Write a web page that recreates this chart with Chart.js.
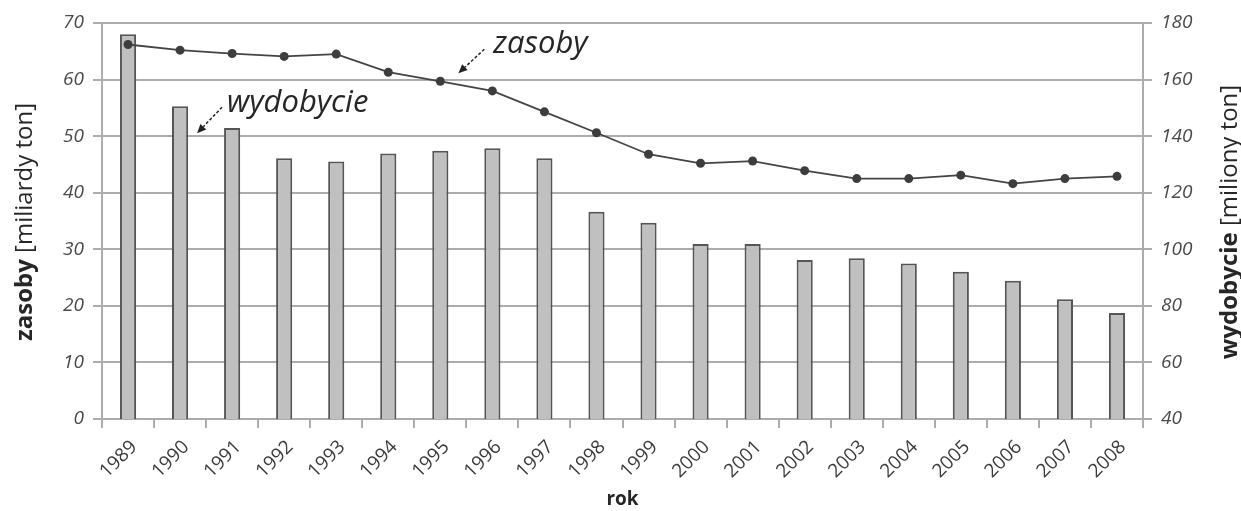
<!DOCTYPE html>
<html><head><meta charset="utf-8">
<script src="https://cdn.jsdelivr.net/npm/chart.js@4"></script>
<style>html,body{margin:0;padding:0;background:#fff}#wrap{width:1241px;height:511px}</style>
</head><body><div id="wrap"><canvas id="c" width="1241" height="511"></canvas></div>
<script>
const years = ['1989','1990','1991','1992','1993','1994','1995','1996','1997','1998','1999','2000','2001','2002','2003','2004','2005','2006','2007','2008'];
const wydobycie = [176, 150.6, 142.9, 132.2, 131, 133.9, 134.8, 135.7, 132.2, 113.3, 109.4, 101.9, 101.9, 96.2, 96.8, 95, 92.1, 88.9, 82.3, 77.5];
const zasoby = [66.2, 65.2, 64.6, 64.1, 64.5, 61.3, 59.7, 58.0, 54.3, 50.6, 46.8, 45.2, 45.6, 43.9, 42.5, 42.5, 43.1, 41.6, 42.5, 42.9];
const leftRange = [0, 70, 10];
const rightRange = [40, 180, 20];
const leftTitle = [['zasoby', 'bold'], [' [miliardy ton]', 'normal']];
const rightTitle = [['wydobycie', 'bold'], [' [miliony ton]', 'normal']];
const xTitle = 'rok';
const FONT = '"Open Sans", "DejaVu Sans", sans-serif';

function drawRotTitle(ctx, parts, cx, cy, size) {
  ctx.save();
  ctx.translate(cx, cy);
  ctx.rotate(-Math.PI / 2);
  ctx.textBaseline = 'middle';
  ctx.textAlign = 'left';
  ctx.fillStyle = '#262626';
  let total = 0;
  const widths = parts.map(p => { ctx.font = p[1] + ' ' + size + 'px ' + FONT; const w = ctx.measureText(p[0]).width; total += w; return w; });
  let x = -total / 2;
  parts.forEach((p, i) => { ctx.font = p[1] + ' ' + size + 'px ' + FONT; ctx.fillText(p[0], x, 0); x += widths[i]; });
  ctx.restore();
}
function arrow(ctx, x1, y1, x2, y2) {
  ctx.save();
  ctx.strokeStyle = '#222'; ctx.fillStyle = '#222';
  ctx.lineWidth = 1.5;
  const ang = Math.atan2(y2 - y1, x2 - x1);
  const hl = 9;
  const bx = x2 - hl * Math.cos(ang), by = y2 - hl * Math.sin(ang);
  ctx.setLineDash([3, 2]);
  ctx.beginPath(); ctx.moveTo(x1, y1); ctx.lineTo(bx, by); ctx.stroke();
  ctx.setLineDash([]);
  ctx.beginPath();
  ctx.moveTo(x2, y2);
  ctx.lineTo(bx + 4 * Math.cos(ang + Math.PI / 2), by + 4 * Math.sin(ang + Math.PI / 2));
  ctx.lineTo(bx + 4 * Math.cos(ang - Math.PI / 2), by + 4 * Math.sin(ang - Math.PI / 2));
  ctx.closePath(); ctx.fill();
  ctx.restore();
}

const annot = {
  id: 'annot',
  afterDraw(chart) {
    const ctx = chart.ctx, a = chart.chartArea;
    const xs = chart.scales.x, yL = chart.scales.yL, yR = chart.scales.yR;
    drawRotTitle(ctx, leftTitle, 25, 222, 24);
    drawRotTitle(ctx, rightTitle, 1230, 222, 24);
    ctx.save();
    ctx.font = 'bold 19px ' + FONT; ctx.fillStyle = '#262626';
    ctx.textAlign = 'center'; ctx.textBaseline = 'middle';
    ctx.fillText(xTitle, (a.left + a.right) / 2, 500);
    ctx.restore();
    // wydobycie label
    const tx1 = xs.getPixelForValue(1) + 17, ty1 = yR.getPixelForValue(wydobycie[1]) + 27;
    const sx1 = tx1 + 25, sy1 = ty1 - 26;
    arrow(ctx, sx1, sy1, tx1, ty1);
    // zasoby label
    const tx2 = xs.getPixelForValue(6) + 18, ty2 = yL.getPixelForValue(zasoby[6]) - 8;
    const sx2 = tx2 + 26, sy2 = ty2 - 24;
    arrow(ctx, sx2, sy2, tx2, ty2);
    ctx.save();
    ctx.font = 'italic 31px ' + FONT; ctx.fillStyle = '#262626';
    ctx.textAlign = 'left'; ctx.textBaseline = 'alphabetic';
    ctx.fillText('wydobycie', sx1 + 5, sy1 + 5);
    ctx.fillText('zasoby', sx2 + 9, sy2 + 4);
    ctx.restore();
  }
};

const GRID = '#acacac';
const TICKC = '#4a4a4a';
new Chart(document.getElementById('c'), {
  type: 'bar',
  data: {
    labels: years,
    datasets: [
      { type: 'line', label: 'zasoby', data: zasoby, yAxisID: 'yL', order: 0,
        borderColor: '#444', borderWidth: 1.8, pointRadius: 4.5, pointBackgroundColor: '#3d3d3d',
        pointBorderColor: '#3d3d3d', pointBorderWidth: 0, tension: 0 },
      { type: 'bar', label: 'wydobycie', data: wydobycie, yAxisID: 'yR', order: 1,
        backgroundColor: '#c0c0c0', borderColor: '#555', borderWidth: 2,
        categoryPercentage: 1, barPercentage: 0.31 }
    ]
  },
  options: {
    responsive: false, animation: false, devicePixelRatio: 1,
    layout: { padding: { top: 23, left: 0, right: 0, bottom: 0 } },
    plugins: { legend: { display: false }, tooltip: { enabled: false } },
    scales: {
      x: {
        offset: true,
        grid: { display: true, offset: true, drawOnChartArea: false, drawTicks: true, tickLength: 9, color: GRID, lineWidth: 2 },
        border: { display: true, color: GRID, width: 2 },
        ticks: { maxRotation: 45, minRotation: 45, autoSkip: false, color: '#3a3a3a', font: { family: FONT, size: 19 }, padding: 8, labelOffset: 6 },
        afterFit(s) { s.height = 92; }
      },
      yL: {
        position: 'left', min: leftRange[0], max: leftRange[1],
        grid: { color: GRID, lineWidth: 2, tickLength: 9, drawTicks: true },
        border: { display: true, color: GRID, width: 2 },
        ticks: { stepSize: leftRange[2], color: TICKC, font: { family: FONT, size: 19, style: 'italic' }, padding: 9 },
        afterFit(s) { s.width = 102; }
      },
      yR: {
        position: 'right', min: rightRange[0], max: rightRange[1],
        grid: { drawOnChartArea: false, color: GRID, lineWidth: 2, tickLength: 9, drawTicks: true },
        border: { display: true, color: GRID, width: 2 },
        ticks: { stepSize: rightRange[2], color: TICKC, font: { family: FONT, size: 19, style: 'italic' }, padding: 9 },
        afterFit(s) { s.width = 98; }
      }
    }
  },
  plugins: [annot]
});
</script>
</body></html>
